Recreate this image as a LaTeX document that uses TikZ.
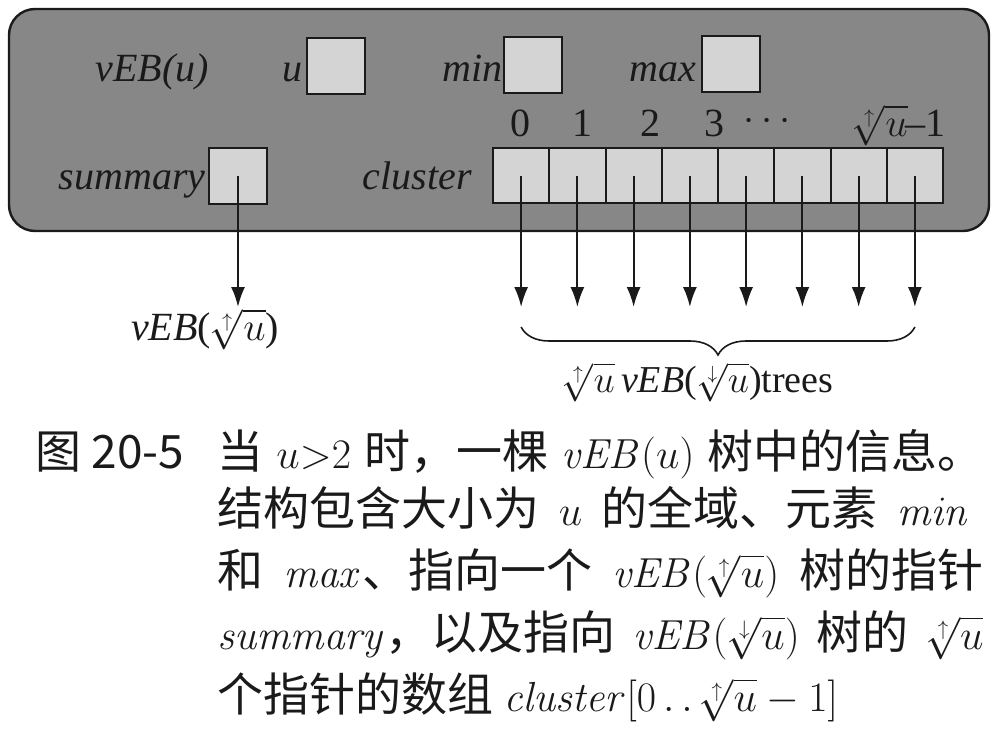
\RequirePackage{fix-cm}
\documentclass[tikz,border=0pt]{standalone}
\usepackage[no-math]{fontspec}
\setmainfont{Liberation Serif}
\newfontfamily\cjk{Noto Sans CJK SC}[Scale=1.095]
\usetikzlibrary{arrows.meta,decorations.pathreplacing}
\definecolor{panelgray}{HTML}{878787}
\definecolor{cellgray}{HTML}{D4D4D4}
\definecolor{ink}{HTML}{1A1A1A}
\begin{document}
\begin{tikzpicture}[x=0.5pt,y=-0.5pt,
  panelbox/.style={draw=ink, line width=1.2pt, fill=panelgray, rounded corners=13pt, minimum width=490pt, minimum height=111pt, inner sep=0pt},
  field/.style={draw=ink, line width=1pt, fill=cellgray, minimum width=29pt, minimum height=28pt, inner sep=0pt},
  slot/.style={draw=ink, line width=1pt, fill=cellgray, minimum width=28.125pt, minimum height=27.5pt, inner sep=0pt},
  lbl/.style={font=\fontsize{20}{24}\selectfont\itshape, inner sep=0pt, text=ink},
  idx/.style={font=\fontsize{20}{24}\selectfont, inner sep=0pt, text=ink},
  ptr/.style={draw=ink, line width=1pt, -{Latex[length=10pt,width=7pt]}},
  capline/.style={font=\fontsize{21}{25}\selectfont\cjk, anchor=base west, inner sep=0pt, text=ink}
]
\useasboundingbox (0,0) rectangle (1004,738);

% panel
\node[panelbox] (panel) at (499,120) {};

% scalar fields
\node[lbl, anchor=base] (title) at (152,82) {vEB(u)};
\node[field] (ubox) at (336,66) {};
\node[lbl, anchor=base east] (ulbl) at (303,82) {u};
\node[field] (minbox) at (533,65) {};
\node[lbl, anchor=base east] (minlbl) at (503,82) {min};
\node[field] (maxbox) at (731,64) {};
\node[lbl, anchor=base east] (maxlbl) at (697,82) {max};

% summary
\node[field] (sumbox) at (238,176) {};
\node[lbl, anchor=base east] (sumlbl) at (206,189) {summary};

% cluster
\node[lbl, anchor=base east] (clulbl) at (472,189) {cluster};
\foreach \i in {0,...,7}{
  \node[slot] (c\i) at ({493+56.25*(\i+0.5)},175.5) {};
}
\node[idx, anchor=base] (i0) at (520,136) {0};
\node[idx, anchor=base] (i1) at (582,136) {1};
\node[idx, anchor=base] (i2) at (650,136) {2};
\node[idx, anchor=base] (i3) at (714,136) {3};
\node[idx] (idots) at (767,122) {$\cdots$};
\node[idx, anchor=base east] (ilast) at (946,136) {$\sqrt[\uparrow]{u}$\kern-1pt–1};

% pointers
\coordinate (sumtip) at (238,307);
\coordinate (tipline) at (0,307);
\coordinate (bracey) at (0,327);
\draw[ptr] (sumbox.center) -- (sumtip);
\foreach \i in {0,...,7}{
  \draw[ptr] (c\i.center) -- (c\i.center |- tipline);
}
\draw[ink, line width=0.8pt, decorate, decoration={brace, mirror, amplitude=14pt}]
  (c0.center |- bracey) -- (c7.center |- bracey);

\node[idx, anchor=base] (sumtarget) at (205,340) {\textit{vEB}($\sqrt[\uparrow]{u}$)};
\node[idx, anchor=base, font=\fontsize{19}{23}\selectfont] (trees) at (698,392) {$\sqrt[\uparrow]{u}$\,\textit{vEB}($\sqrt[\downarrow]{u}$)trees};

% caption
\node[capline] (fig) at (35,468) {图 20-5};
\node[capline] (l1) at (217,468) {\hbox to 383pt{当 $u{>}2$ 时，一棵 $\mathit{vEB}(u)$ 树中的信息。}};
\node[capline] (l2) at (217,525) {\hbox to 376pt{结构包含大小为 $u$ 的全域、元素 $\mathit{min}$}};
\node[capline] (l3) at (217,587) {\hbox to 383pt{和 $\mathit{max}$、指向一个 $\mathit{vEB}(\sqrt[\uparrow]{u})$ 树的指针}};
\node[capline] (l4) at (217,649) {\hbox to 383pt{$\mathit{summary}$，以及指向 $\mathit{vEB}(\sqrt[\downarrow]{u})$ 树的 $\sqrt[\uparrow]{u}$}};
\node[capline] (l5) at (217,711) {个指针的数组 $\mathit{cluster}[0\,.\,.\,\sqrt[\uparrow]{u}-1]$};
\end{tikzpicture}
\end{document}
